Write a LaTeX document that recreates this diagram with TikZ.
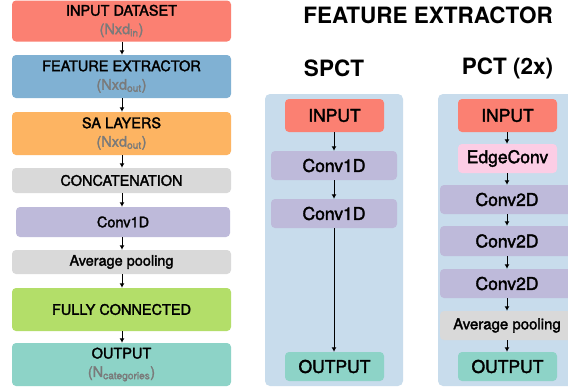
\documentclass[tikz,border=0pt]{standalone}
\usepackage{fontspec}
\setmainfont{TeX Gyre Heros}
\newfontfamily\medfont[FakeBold=2]{TeX Gyre Heros}
\usetikzlibrary{arrows.meta}
\definecolor{csalmon}{HTML}{FB8072}
\definecolor{cblue}{HTML}{80B1D3}
\definecolor{corange}{HTML}{FDB462}
\definecolor{cgray}{HTML}{D9D9D9}
\definecolor{cpurple}{HTML}{BEBADA}
\definecolor{cgreen}{HTML}{B3DE69}
\definecolor{cteal}{HTML}{8DD3C7}
\definecolor{cpink}{HTML}{FCCDE5}
\definecolor{cpanel}{HTML}{C8DCEC}
\definecolor{subgray}{HTML}{7A7A7A}
\tikzset{
  box/.style={rounded corners=4pt, inner sep=0pt, align=center, text=black},
  lbox/.style={box, minimum width=219pt, font=\fontsize{14.5}{18.5}\medfont},
  rbox/.style={box, font=\fontsize{17.5}{20}\medfont},
  panel/.style={rounded corners=5pt, fill=cpanel, minimum width=138pt, minimum height=292pt, inner sep=0pt},
  ttl/.style={font=\fontsize{22.5}{26}\selectfont\bfseries, inner sep=0pt},
  arr/.style={-{Latex[length=4.5pt,width=5pt]}, line width=1pt, black},
}
\newcommand{\subt}[1]{{\color{subgray}#1}}
\begin{document}
\begin{tikzpicture}[x=1pt,y=-1pt]
\clip (0,0) rectangle (568,391);
\fill[white] (0,0) rectangle (568,391);
% left column
\node[lbox, fill=csalmon, minimum height=41pt] (lin) at (121.5,21) {INPUT DATASET\\\subt{(Nxd\textsubscript{in})}};
\node[lbox, fill=cblue, minimum height=43pt] (lfe) at (121.5,76.5) {FEATURE EXTRACTOR\\\subt{(Nxd\textsubscript{out})}};
\node[lbox, fill=corange, minimum height=43pt] (lsa) at (121.5,133.5) {SA LAYERS\\\subt{(Nxd\textsubscript{out})}};
\node[lbox, fill=cgray, minimum height=25pt] (lcat) at (121.5,180.5) {CONCATENATION};
\node[lbox, fill=cpurple, minimum height=30pt, minimum width=214pt] (lconv) at (123,222) {Conv1D};
\node[lbox, fill=cgray, minimum height=24pt] (lavg) at (121.5,262) {Average pooling};
\node[lbox, fill=cgreen, minimum height=43pt] (lfc) at (121.5,309.5) {FULLY CONNECTED};
\node[lbox, fill=cteal, minimum height=43pt] (lout) at (121.5,364.5) {OUTPUT\\\subt{(N\textsubscript{categories})}};
\foreach \a/\b in {lin/lfe,lfe/lsa,lsa/lcat,lcat/lconv,lconv/lavg,lavg/lfc,lfc/lout}
  \draw[arr] (\a.south -| 122,0) -- (\b.north -| 122,0);
% titles
\node[ttl] (tfe) at (428,15) {FEATURE EXTRACTOR};
\node[ttl] (tspct) at (334,68) {SPCT};
\node[ttl] (tpct) at (507.5,68) {PCT (2x)};
% panels
\node[panel] (pspct) at (334,240) {};
\node[panel] (ppct) at (507,240) {};
% SPCT
\node[rbox, fill=csalmon, minimum width=99pt, minimum height=33pt] (sin) at (334.5,115.5) {INPUT};
\node[rbox, fill=cpurple, minimum width=126pt, minimum height=29pt] (sc1) at (334,165.5) {Conv1D};
\node[rbox, fill=cpurple, minimum width=126pt, minimum height=29pt] (sc2) at (334,213.5) {Conv1D};
\node[rbox, fill=cteal, minimum width=99pt, minimum height=29pt] (sout) at (334.5,366.5) {OUTPUT};
\foreach \a/\b in {sin/sc1,sc1/sc2,sc2/sout}
  \draw[arr] (\a.south -| 334,0) -- (\b.north -| 334,0);
% PCT
\node[rbox, fill=csalmon, minimum width=99pt, minimum height=33pt] (pin) at (507.5,115.5) {INPUT};
\node[rbox, fill=cpink, minimum width=99pt, minimum height=29pt] (pedge) at (507.5,158.5) {EdgeConv};
\node[rbox, fill=cpurple, minimum width=134pt, minimum height=29pt] (pc1) at (507,199.5) {Conv2D};
\node[rbox, fill=cpurple, minimum width=134pt, minimum height=30pt] (pc2) at (507,241) {Conv2D};
\node[rbox, fill=cpurple, minimum width=134pt, minimum height=29pt] (pc3) at (507,283.5) {Conv2D};
\node[rbox, fill=cgray, minimum width=134pt, minimum height=29pt, font=\fontsize{15}{18}\medfont] (pavg) at (507,325.5) {Average pooling};
\node[rbox, fill=cteal, minimum width=99pt, minimum height=29pt] (pout) at (507.5,366.5) {OUTPUT};
\foreach \a/\b in {pin/pedge,pedge/pc1,pc1/pc2,pc2/pc3,pc3/pavg,pavg/pout}
  \draw[arr] (\a.south -| 507,0) -- (\b.north -| 507,0);
\end{tikzpicture}
\end{document}
